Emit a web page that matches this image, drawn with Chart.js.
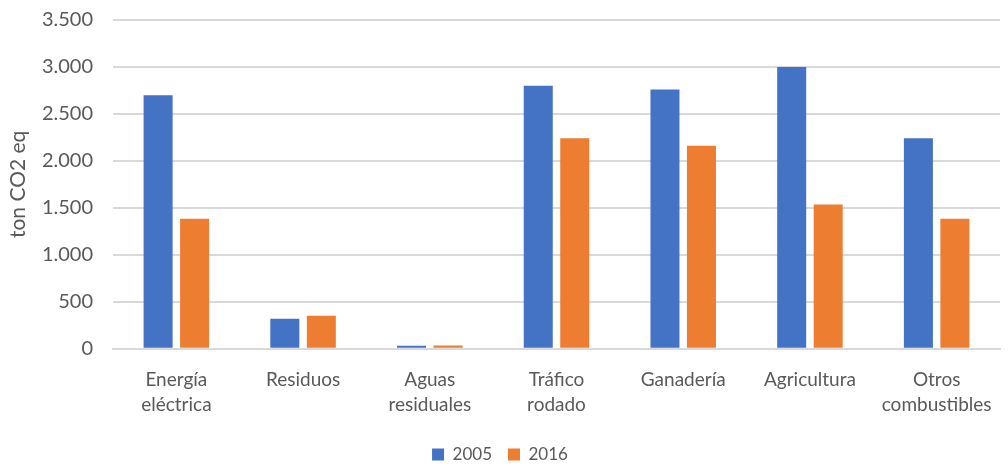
<!DOCTYPE html>
<html>
<head>
<meta charset="utf-8">
<script src="https://cdn.jsdelivr.net/npm/chart.js@4"></script>
<style>
html,body{margin:0;padding:0;background:#fff;}
#wrap{width:1008px;height:467px;position:relative;}
</style>
</head>
<body>
<div id="wrap"><canvas id="c" width="1008" height="467"></canvas></div>
<script>
const categories = [
  ['Energía', 'eléctrica'],
  ['Residuos'],
  ['Aguas', 'residuales'],
  ['Tráfico', 'rodado'],
  ['Ganadería'],
  ['Agricultura'],
  ['Otros', 'combustibles']
];
const seriesNames = ['2005', '2016'];
const values2005 = [2700, 320, 32, 2800, 2760, 3000, 2240];
const values2016 = [1385, 350, 35, 2240, 2160, 1535, 1385];
const yTicks = [0, 500, 1000, 1500, 2000, 2500, 3000, 3500];
const yTitle = 'ton CO2 eq';

const FONT = 'Lato, "Open Sans", sans-serif';
const TXT = '#595959';

new Chart(document.getElementById('c'), {
  type: 'bar',
  data: {
    labels: categories,
    datasets: [
      { label: seriesNames[0], data: values2005, backgroundColor: '#4472C4', categoryPercentage: 0.576, barPercentage: 0.795 },
      { label: seriesNames[1], data: values2016, backgroundColor: '#ED7D31', categoryPercentage: 0.576, barPercentage: 0.795 }
    ]
  },
  options: {
    responsive: false,
    animation: false,
    devicePixelRatio: 1,
    layout: { padding: { left: 0, right: 8, top: 0, bottom: -6 } },
    plugins: {
      legend: {
        position: 'bottom',
        labels: { boxWidth: 12, boxHeight: 12, color: TXT, font: { family: FONT, size: 17 }, padding: 16 }
      },
      tooltip: { enabled: false }
    },
    scales: {
      x: {
        afterFit: (ax) => { ax.height += 2; },
        grid: { display: false },
        border: { color: '#d9d9d9', width: 2 },
        ticks: { color: TXT, font: { family: FONT, size: 19, lineHeight: 1.35 }, maxRotation: 0, autoSkip: false, padding: 10 }
      },
      y: {
        min: 0, max: 3500,
        afterBuildTicks: (ax) => { ax.ticks = yTicks.map(v => ({ value: v })); },
        afterFit: (ax) => { ax.width = 113; },
        grid: { color: '#d9d9d9', lineWidth: 2, drawTicks: false },
        border: { display: false },
        title: { display: true, text: yTitle, color: TXT, font: { family: FONT, size: 21 }, padding: { top: 6, bottom: 0 } },
        ticks: {
          color: TXT, font: { family: FONT, size: 20, lineHeight: 0 }, padding: 20, autoSkip: false,
          callback: (v) => v.toLocaleString('de-DE')
        }
      }
    }
  }
});
</script>
</body>
</html>
